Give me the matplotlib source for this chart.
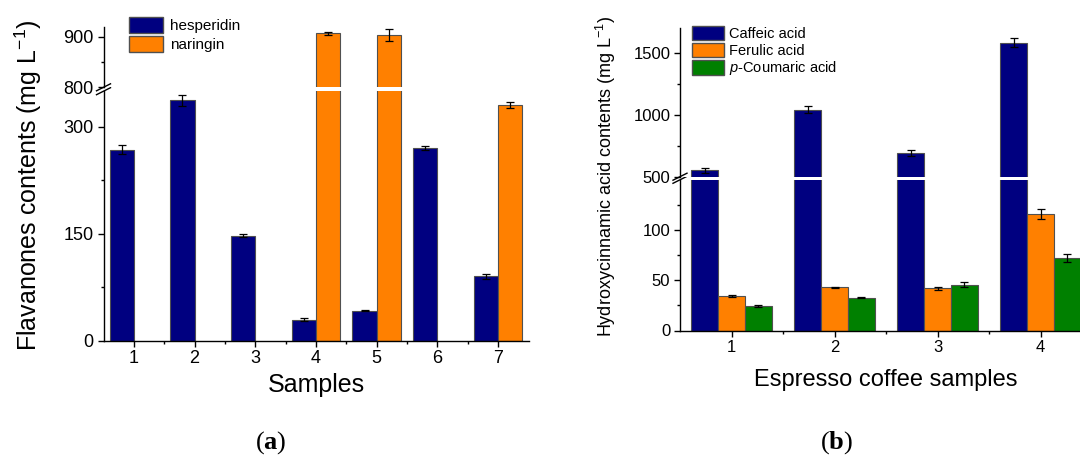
import numpy as np
import matplotlib
matplotlib.use("Agg")
import matplotlib.pyplot as plt
from matplotlib.patches import Patch

plt.rcParams['font.family'] = ['Liberation Sans', 'DejaVu Sans']
plt.rcParams['mathtext.fontset'] = 'custom'
plt.rcParams['mathtext.rm'] = 'Liberation Sans'
plt.rcParams['mathtext.it'] = 'Liberation Sans:italic'
plt.rcParams['mathtext.bf'] = 'Liberation Serif:bold'

# panel (a): flavanones
samples_a = [1, 2, 3, 4, 5, 6, 7]
hesperidin = [268, 337, 147, 29, 42, 270, 90]
hesperidin_err = [6, 7.5, 2, 2, 1, 3, 3]
naringin = [np.nan, np.nan, np.nan, 907, 904, np.nan, 331]
naringin_err = [0, 0, 0, 3, 12, 0, 4]

# panel (b): hydroxycinnamic acids
samples_b = [1, 2, 3, 4]
caffeic = [552, 1040, 690, 1581]
caffeic_err = [22, 27, 27, 35]
ferulic = [34.5, 43, 42, 116]
ferulic_err = [1, 0.6, 1.5, 5]
coumaric = [24.5, 32.5, 45.5, 72]
coumaric_err = [0.7, 0.4, 2.5, 4]

NAVY = '#000080'
ORANGE = '#FF8000'
GREEN = '#008000'
EDGE = '#505050'

W, H = 1080, 457
fig = plt.figure(figsize=(W / 100, H / 100), dpi=100)


def px_axes(x0, x1, ytop, ybot):
    return fig.add_axes([x0 / W, 1 - ybot / H, (x1 - x0) / W, (ybot - ytop) / H])


def draw_series(ax, x, vals, errs, offset, width, color):
    x = np.asarray(x, float)
    vals = np.asarray(vals, float)
    errs = np.asarray(errs, float)
    m = ~np.isnan(vals)
    ax.bar(x[m] + offset, vals[m], width, color=color, edgecolor=EDGE, lw=0.8, zorder=2)
    ax.errorbar(x[m] + offset, vals[m], yerr=errs[m], fmt='none', ecolor='k',
                elinewidth=0.9, capsize=2.6, capthick=0.9, zorder=3)


def style(ax, top_part, fs):
    for s in ['top', 'right']:
        ax.spines[s].set_visible(False)
    ax.spines['left'].set_linewidth(1)
    ax.spines['bottom'].set_linewidth(1)
    ax.tick_params(which='major', direction='out', length=4, width=1, labelsize=fs, pad=3)
    ax.tick_params(which='minor', direction='out', length=2.5, width=1)
    if top_part:
        ax.spines['bottom'].set_visible(False)
        ax.tick_params(axis='x', which='both', bottom=False, labelbottom=False)


def break_mark(ax, y):
    bb = ax.get_window_extent()
    dx = 7 / bb.width
    dy = 3.5 / bb.height
    ax.plot([-dx, dx], [y - dy, y + dy], transform=ax.transAxes, color='k',
            lw=1, clip_on=False, zorder=5)


# ---------- panel (a) ----------
a_lo = px_axes(103.5, 528.5, 91.2, 340.5)
a_hi = px_axes(103.5, 528.5, 26.6, 87.3)
for ax in (a_lo, a_hi):
    draw_series(ax, samples_a, hesperidin, hesperidin_err, -0.2, 0.4, NAVY)
    draw_series(ax, samples_a, naringin, naringin_err, 0.2, 0.4, ORANGE)
    ax.set_xlim(0.5, 7.5)
a_lo.set_ylim(0, 350)
a_hi.set_ylim(800, 920)
a_lo.set_yticks([0, 150, 300])
a_lo.set_yticks([75, 225], minor=True)
a_hi.set_yticks([800, 900])
a_hi.set_yticks([850], minor=True)
a_lo.set_xticks(samples_a)
a_lo.set_xticks(np.arange(1.5, 7, 1), minor=True)
style(a_lo, False, 13)
style(a_hi, True, 13)
break_mark(a_hi, 0)
break_mark(a_lo, 1)
a_lo.set_xlabel('Samples', fontsize=18, labelpad=4)
fig.text(28 / W, 1 - 185 / H, 'Flavanones contents (mg L$^{-1}$)', rotation=90,
         ha='center', va='center', fontsize=18)
fig.legend(handles=[Patch(facecolor=NAVY, edgecolor=EDGE, label='hesperidin'),
                    Patch(facecolor=ORANGE, edgecolor=EDGE, label='naringin')],
           loc='upper left', bbox_to_anchor=(129 / W, 1 - 17 / H), frameon=False,
           fontsize=11, handlelength=2.2, handleheight=1.25, handletextpad=0.5,
           labelspacing=0.15, borderpad=0, borderaxespad=0)

# ---------- panel (b) ----------
b_lo = px_axes(680, 1092, 179.8, 330.5)
b_hi = px_axes(680, 1092, 27.9, 176.7)
for ax in (b_lo, b_hi):
    draw_series(ax, samples_b, caffeic, caffeic_err, -0.26, 0.26, NAVY)
    draw_series(ax, samples_b, ferulic, ferulic_err, 0.0, 0.26, ORANGE)
    draw_series(ax, samples_b, coumaric, coumaric_err, 0.26, 0.26, GREEN)
    ax.set_xlim(0.5, 4.5)
b_lo.set_ylim(0, 150)
b_hi.set_ylim(500, 1700)
b_lo.set_yticks([0, 50, 100])
b_lo.set_yticks([25, 75, 125], minor=True)
b_hi.set_yticks([500, 1000, 1500])
b_hi.set_yticks([750, 1250], minor=True)
b_lo.set_xticks(samples_b)
b_lo.set_xticks(np.arange(1.5, 4, 1), minor=True)
style(b_lo, False, 12)
style(b_hi, True, 12)
break_mark(b_hi, 0)
break_mark(b_lo, 1)
b_lo.set_xlabel('Espresso coffee samples', fontsize=17, labelpad=10)
fig.text(606 / W, 1 - 176 / H, 'Hydroxycinnamic acid contents (mg L$^{-1}$)', rotation=90,
         ha='center', va='center', fontsize=13)
fig.legend(handles=[Patch(facecolor=NAVY, edgecolor=EDGE, label='Caffeic acid'),
                    Patch(facecolor=ORANGE, edgecolor=EDGE, label='Ferulic acid'),
                    Patch(facecolor=GREEN, edgecolor=EDGE, label='$p$-Coumaric acid')],
           loc='upper left', bbox_to_anchor=(691.7 / W, 1 - 26 / H), frameon=False,
           fontsize=10.5, handlelength=2.2, handleheight=1.15, handletextpad=0.35,
           labelspacing=0.1, borderpad=0, borderaxespad=0)

# panel letters
for xc, letter in [(271, 'a'), (837, 'b')]:
    fig.text(xc / W, 1 - 443 / H, '(' + r'$\mathbf{' + letter + '}$' + ')',
             ha='center', va='center', fontsize=19, family='Liberation Serif')

fig.savefig('out.png', dpi=100)
